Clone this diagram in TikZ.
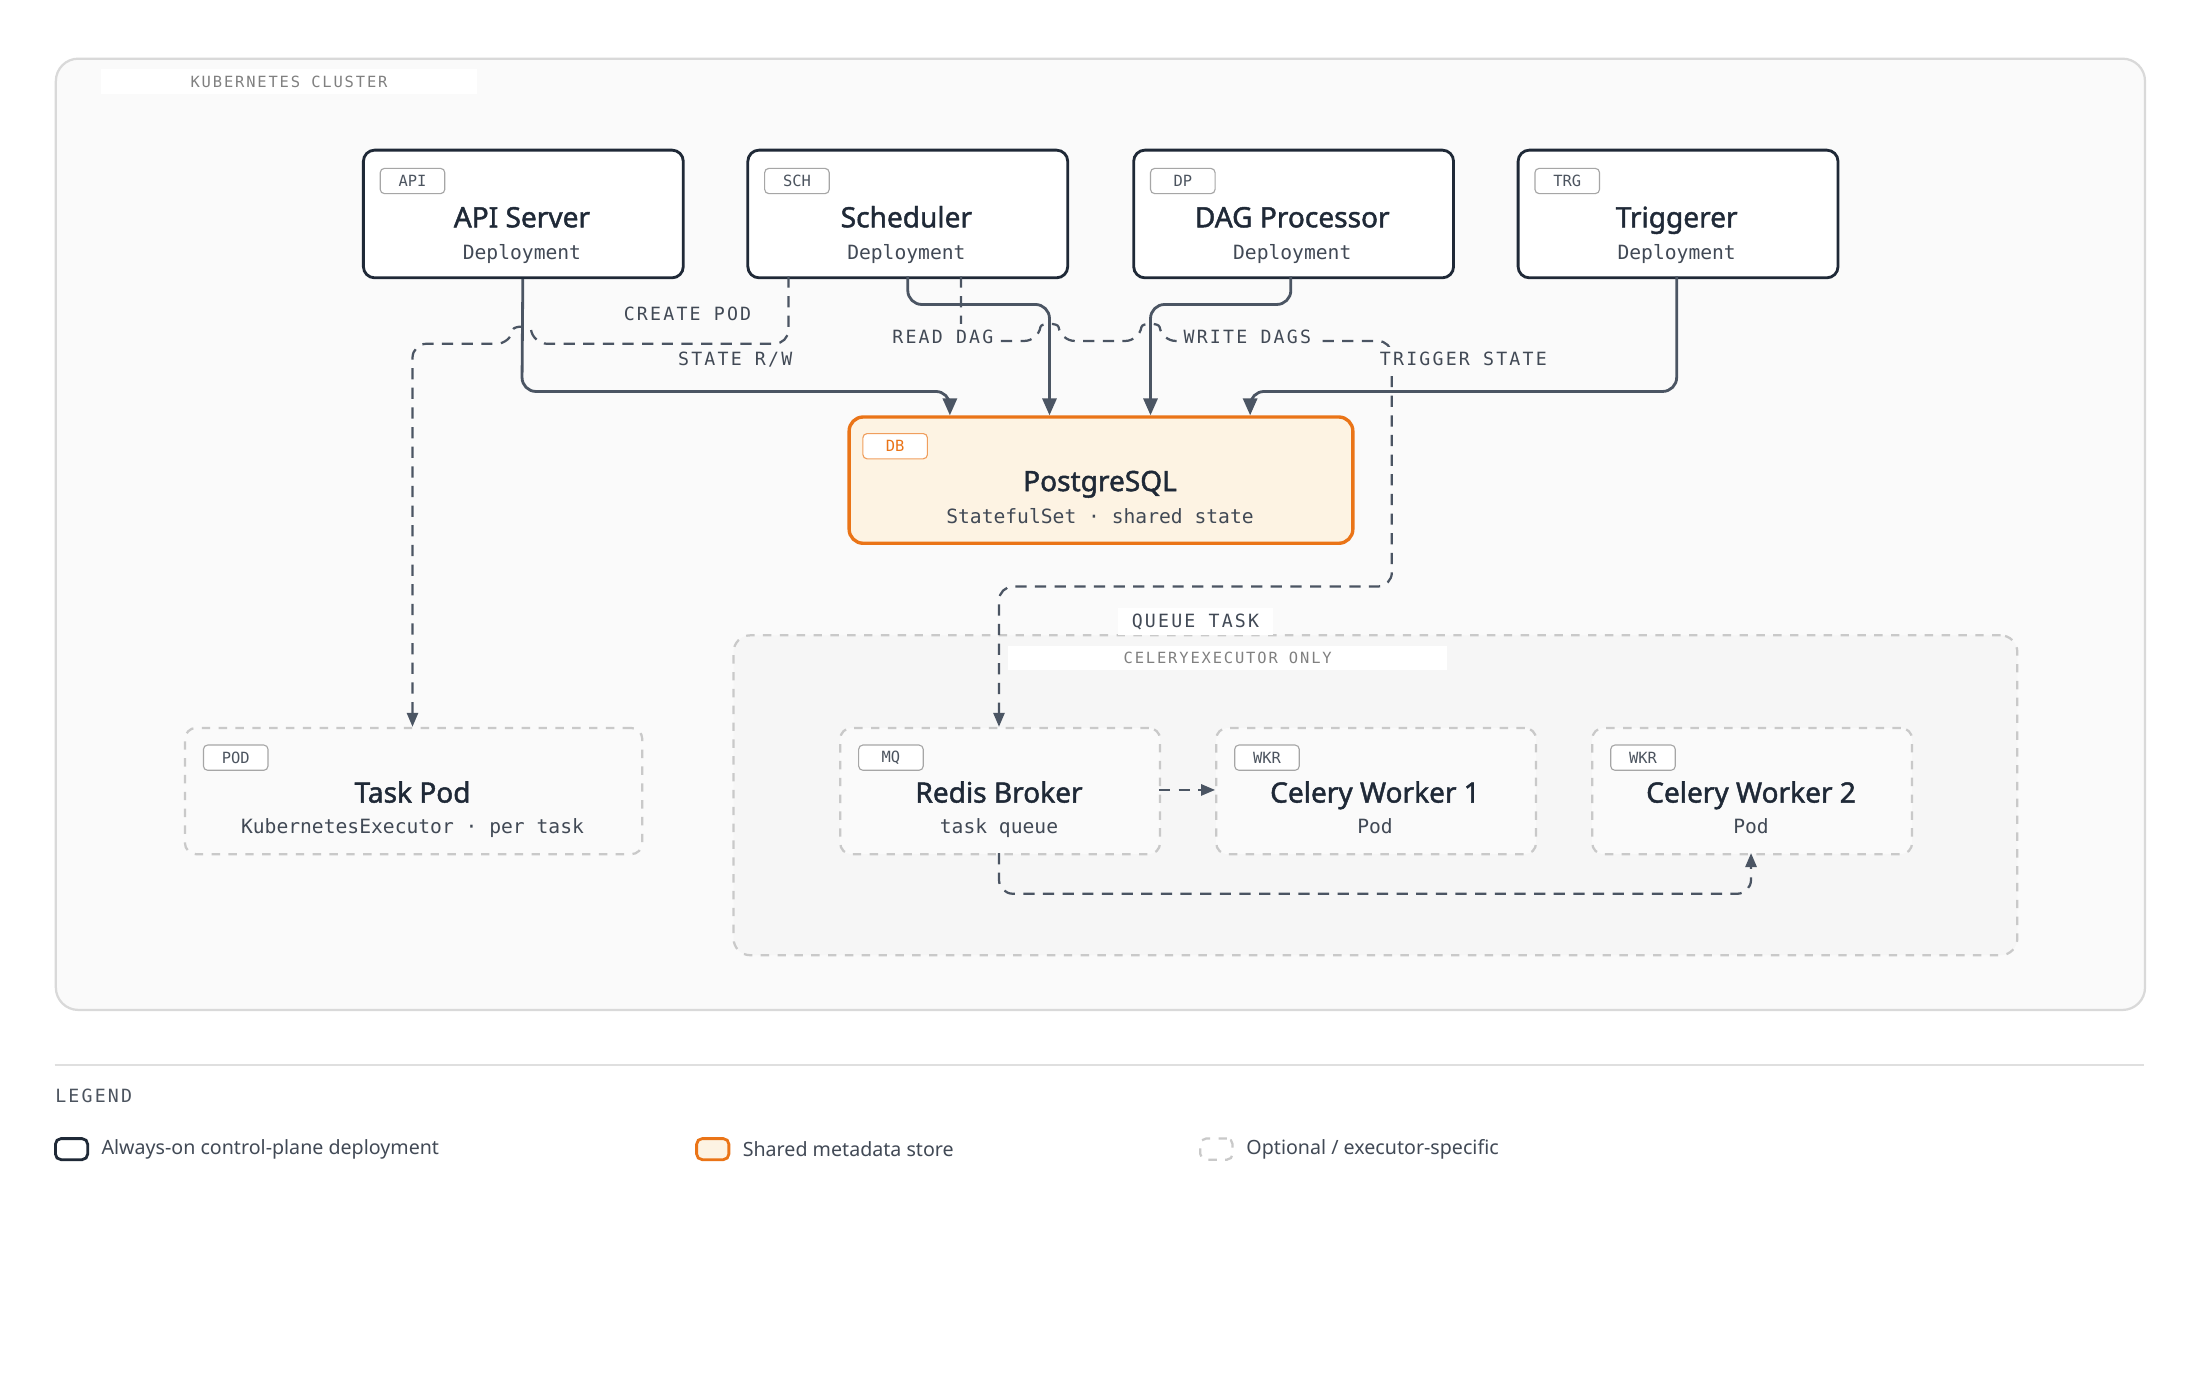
\documentclass[tikz,border=0pt]{standalone}
\usepackage{fontspec}
\setmainfont{Noto Sans}
\newfontfamily\ttlf{Noto Sans}[FakeBold=1.6]
\newfontfamily\mono{DejaVu Sans Mono}
\newfontfamily\lblf{DejaVu Sans Mono}[LetterSpace=12]
\usetikzlibrary{arrows.meta}
\definecolor{ink}{HTML}{1F2937}
\definecolor{ln}{HTML}{4B5563}
\definecolor{dgray}{HTML}{C9C9C9}
\definecolor{org}{HTML}{EA7417}
\definecolor{orgbg}{HTML}{FDF3E3}
\definecolor{cl}{HTML}{FAFAFA}
\begin{document}
\begin{tikzpicture}[x=0.5pt,y=-0.5pt,
 box/.style={draw=ink,line width=1pt,rounded corners=4pt,fill=white},
 obox/.style={draw=dgray,dashed,line width=0.8pt,rounded corners=4pt,fill=cl},
 tag/.style={draw=gray!70,rounded corners=1.5pt,fill=white,font=\mono\fontsize{5.5}{6}\selectfont,text=ink!80,minimum width=23pt,minimum height=9pt,inner sep=0},
 ttl/.style={font=\ttlf\fontsize{10}{12}\selectfont,text=ink,anchor=base},
 sub/.style={font=\mono\fontsize{7}{8}\selectfont,text=ink!85,anchor=base},
 lbl/.style={font=\lblf\fontsize{6.5}{7}\selectfont,text=ink!85,fill=cl,inner sep=2pt},
 leg/.style={anchor=west,font=\fontsize{7}{9}\selectfont,text=ink!85,inner sep=0},
 solid arr/.style={draw=ln,line width=1pt,rounded corners=5pt,-{Triangle[length=6pt,width=5pt]}},
 dash arr/.style={draw=ln,line width=0.8pt,dashed,dash pattern=on 4pt off 3pt,rounded corners=5pt,-{Triangle[length=5pt,width=4pt]}}
]
\useasboundingbox (0,0) rectangle (1568,982);
\fill[white] (0,0) rectangle (1568,982);
% cluster
\node[draw=gray!30,fill=cl,rounded corners=8pt,line width=0.8pt,minimum width=744.5pt,minimum height=339pt,anchor=north west,inner sep=0] (cluster) at (39,41) {};
\node[fill=white,minimum width=134pt,minimum height=9pt,inner sep=0,font=\lblf\fontsize{5.5}{6}\selectfont,text=gray] (clbl) at (206,58) {KUBERNETES CLUSTER};
% celery region
\node[draw=dgray,dashed,fill=gray!7,rounded corners=6pt,line width=0.8pt,minimum width=457.5pt,minimum height=114pt,anchor=north west,inner sep=0] (celery) at (522,452) {};
\node[fill=white,minimum width=156.5pt,minimum height=8.5pt,inner sep=0,font=\lblf\fontsize{5.5}{6}\selectfont,text=gray] (celbl) at (875,469) {CELERYEXECUTOR ONLY};
% top boxes
\foreach \n/\x/\t/\T in {api/258/API/API Server, sch/532/SCH/Scheduler, dp/807/DP/DAG Processor, trg/1081/TRG/Triggerer}{
 \node[box,minimum width=114pt,minimum height=45.5pt,anchor=north west,inner sep=0] (\n) at (\x,106) {};
 \node[tag] (\n t) at (\x+36,129) {\t};
 \node[ttl] (\n n) at (\x+114,162) {\T};
 \node[sub] (\n s) at (\x+114,185) {Deployment};
}
% postgres
\node[draw=org,fill=orgbg,line width=1.2pt,rounded corners=5pt,minimum width=179.5pt,minimum height=45pt,anchor=north west,inner sep=0] (db) at (604,296) {};
\node[tag,draw=org!70,text=org] (dbt) at (638,318) {DB};
\node[ttl] (dbn) at (784,350) {PostgreSQL};
\node[sub] (dbs) at (784,373) {StatefulSet · shared state};
% lower boxes
\foreach \n/\x/\w/\t/\T/\S in {pod/131/163/POD/Task Pod/KubernetesExecutor · per task, mq/598/114/MQ/Redis Broker/task queue, w1/866/114/WKR/Celery Worker 1/Pod, w2/1134/114/WKR/Celery Worker 2/Pod}{
 \node[obox,minimum width=\w pt,minimum height=45pt,anchor=north west,inner sep=0] (\n) at (\x,518) {};
 \node[tag] (\n t) at (\x+37,540) {\t};
 \node[ttl] (\n n) at (\x+\w,572) {\T};
 \node[sub] (\n s) at (\x+\w,594) {\S};
}
% solid connectors
\draw[solid arr] (api) -- (372,279) -- (677,279) -- (677,296);
\draw[solid arr] (647,197) -- (647,217) -- (748,217) -- (748,296);
\draw[solid arr] (920,197) -- (920,217) -- (820,217) -- (820,296);
\draw[solid arr] (1195,197) -- (1195,279) -- (891,279) -- (891,296);
% dashed connectors
\draw[dash arr] (562,197) -- (562,245) -- (380,245) .. controls (378,232) and (366,232) .. (364,245) -- (294,245) -- (294,518);
\draw[dash arr] (685,197) -- (685,243) -- (740,243) .. controls (742,230) and (754,230) .. (756,243) -- (812,243) .. controls (814,230) and (826,230) .. (828,243) -- (992,243) -- (992,418) -- (712,418) -- (712,518);
\draw[dash arr,rounded corners=0] (826,563) -- (866,563);
\draw[dash arr] (712,608) -- (712,637) -- (1248,637) -- (1248,608);
% labels
\node[lbl] at (490,224) {CREATE POD};
\node[lbl] at (524,256) {STATE R/W};
\node[lbl] at (672,240) {READ DAG};
\node[lbl] at (889,240) {WRITE DAGS};
\node[lbl] at (1043,256) {TRIGGER STATE};
\node[lbl,fill=white,inner xsep=5pt] at (852,443) {QUEUE TASK};
% legend
\draw[gray!25,line width=0.8pt] (39,759) -- (1528,759);
\node[anchor=west,inner sep=0,font=\lblf\fontsize{6.5}{7}\selectfont,text=ink!80] at (39,781) {LEGEND};
\node[draw=ink,line width=1pt,rounded corners=2pt,minimum width=11.5pt,minimum height=7.5pt,inner sep=0,fill=white] (l1) at (51,819) {};
\node[leg] at (72,819) {Always-on control-plane deployment};
\node[draw=org,fill=orgbg,line width=1pt,rounded corners=2pt,minimum width=11.5pt,minimum height=7.5pt,inner sep=0] (l2) at (508,819) {};
\node[leg] at (529,819) {Shared metadata store};
\node[draw=dgray,dashed,line width=0.8pt,rounded corners=2pt,minimum width=11.5pt,minimum height=7.5pt,inner sep=0] (l3) at (867,819) {};
\node[leg] at (888,819) {Optional / executor-specific};
\end{tikzpicture}
\end{document}
